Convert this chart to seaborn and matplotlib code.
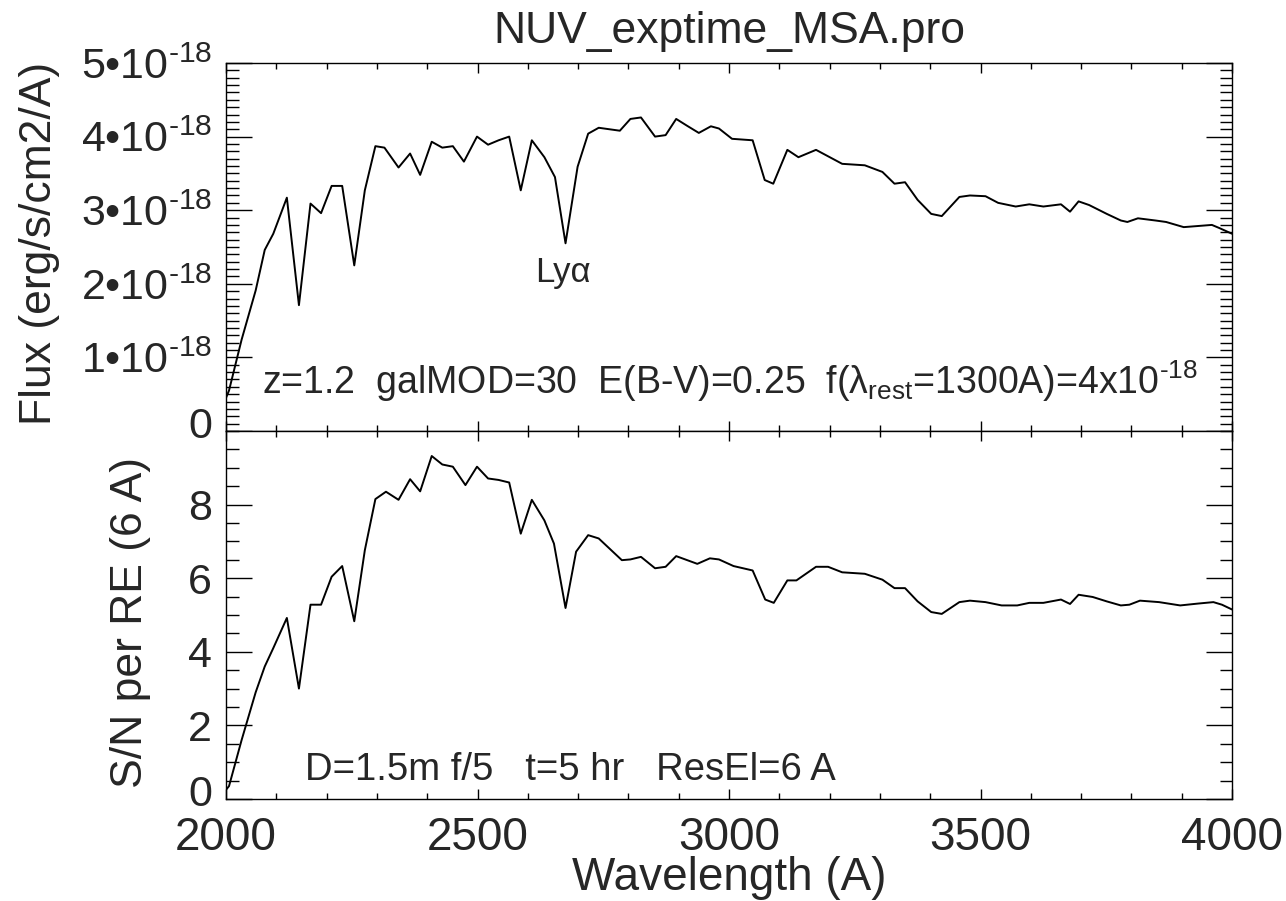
import matplotlib
matplotlib.use("Agg")
import matplotlib.pyplot as plt
import matplotlib.transforms as mtransforms
import seaborn as sns
import pandas as pd
import numpy as np
from matplotlib.ticker import FixedLocator, FixedFormatter, MultipleLocator

# ---------------- data ----------------
flux_wave = [2000, 2006, 2031, 2059, 2077, 2094, 2121, 2145, 2168, 2189, 2210, 2231,
             2255, 2276, 2297, 2315, 2343, 2366, 2386, 2409, 2430, 2451, 2473, 2499,
             2521, 2542, 2563, 2586, 2608, 2633, 2654, 2675, 2699, 2720, 2741, 2783,
             2804, 2825, 2853, 2874, 2895, 2916, 2940, 2964, 2980, 3006, 3047, 3071,
             3088, 3116, 3138, 3173, 3225, 3270, 3305, 3329, 3350, 3375, 3402, 3423,
             3458, 3479, 3510, 3535, 3570, 3597, 3625, 3660, 3678, 3695, 3716, 3751,
             3779, 3792, 3813, 3848, 3869, 3904, 3960, 3974, 4000]
flux_e18 = [0.45, 0.55, 1.24, 1.91, 2.46, 2.68, 3.17, 1.71, 3.09, 2.96, 3.33, 3.33,
            2.25, 3.27, 3.87, 3.85, 3.58, 3.77, 3.48, 3.93, 3.85, 3.87, 3.66, 4.00,
            3.89, 3.95, 4.00, 3.27, 3.95, 3.72, 3.45, 2.55, 3.59, 4.04, 4.12, 4.08,
            4.24, 4.26, 4.00, 4.02, 4.24, 4.15, 4.05, 4.14, 4.11, 3.97, 3.95, 3.41,
            3.36, 3.82, 3.72, 3.82, 3.63, 3.61, 3.52, 3.36, 3.38, 3.14, 2.95, 2.92,
            3.18, 3.20, 3.19, 3.10, 3.05, 3.08, 3.05, 3.08, 2.98, 3.12, 3.07, 2.95,
            2.86, 2.84, 2.89, 2.86, 2.84, 2.77, 2.80, 2.76, 2.68]

sn_wave = [2000, 2006, 2031, 2059, 2077, 2094, 2121, 2145, 2168, 2189, 2210, 2231,
           2255, 2276, 2297, 2318, 2343, 2366, 2386, 2409, 2430, 2451, 2476, 2499,
           2521, 2542, 2563, 2586, 2608, 2633, 2652, 2675, 2696, 2720, 2741, 2787,
           2804, 2825, 2853, 2874, 2895, 2937, 2962, 2980, 3009, 3047, 3072, 3089,
           3116, 3134, 3173, 3197, 3225, 3270, 3305, 3329, 3350, 3375, 3402, 3423,
           3458, 3479, 3510, 3542, 3573, 3597, 3625, 3660, 3678, 3695, 3723, 3751,
           3779, 3796, 3817, 3855, 3897, 3932, 3963, 3980, 4000]
sn_values = [0.25, 0.35, 1.60, 2.90, 3.60, 4.10, 4.92, 3.00, 5.28, 5.28, 6.04, 6.33,
             4.83, 6.76, 8.15, 8.35, 8.13, 8.69, 8.36, 9.32, 9.09, 9.03, 8.53, 9.03,
             8.71, 8.67, 8.60, 7.21, 8.13, 7.57, 6.94, 5.19, 6.72, 7.17, 7.08, 6.49,
             6.51, 6.58, 6.27, 6.31, 6.60, 6.39, 6.54, 6.51, 6.33, 6.21, 5.42, 5.33,
             5.94, 5.94, 6.31, 6.31, 6.16, 6.12, 5.96, 5.73, 5.73, 5.37, 5.08, 5.03,
             5.35, 5.39, 5.35, 5.26, 5.26, 5.33, 5.33, 5.42, 5.30, 5.55, 5.49, 5.37,
             5.26, 5.28, 5.39, 5.35, 5.26, 5.31, 5.35, 5.28, 5.15]

x_ticks = [2000, 2500, 3000, 3500, 4000]
x_ticklabels = ["2000", "2500", "3000", "3500", "4000"]
flux_ticks = [0, 1e-18, 2e-18, 3e-18, 4e-18, 5e-18]
flux_ticklabels = ["0", r"1•10$^{\text{-18}}$", r"2•10$^{\text{-18}}$", r"3•10$^{\text{-18}}$",
                   r"4•10$^{\text{-18}}$", r"5•10$^{\text{-18}}$"]
sn_ticks = [0, 2, 4, 6, 8]
sn_ticklabels = ["0", "2", "4", "6", "8"]

title = "NUV_exptime_MSA.pro"
xlabel = "Wavelength (A)"
flux_label = "Flux (erg/s/cm2/A)"
sn_label = "S/N per RE (6 A)"
lya_text = "Lyα"
model_text = r"z=1.2  galMOD=30  E(B-V)=0.25  f(λ$_{\text{rest}}$=1300A)=4x10$^{\text{-18}}$"
inst_text = "D=1.5m f/5   t=5 hr   ResEl=6 A"

# ---------------- style ----------------
sns.set_theme(style="ticks")
plt.rcParams["font.family"] = ["Liberation Sans", "DejaVu Sans"]
plt.rcParams["mathtext.fontset"] = "custom"
plt.rcParams["mathtext.rm"] = "Liberation Sans"
plt.rcParams["mathtext.it"] = "Liberation Sans"
plt.rcParams["mathtext.default"] = "regular"

flux_df = pd.DataFrame({"wave": flux_wave, "flux": np.array(flux_e18) * 1e-18})
sn_df = pd.DataFrame({"wave": sn_wave, "sn": sn_values})

fig = plt.figure(figsize=(12.86, 9.01), dpi=100)
L, W = 226 / 1286, 1006 / 1286
H = 368 / 901
ax1 = fig.add_axes([L, 1 - 431 / 901, W, H])
ax2 = fig.add_axes([L, 1 - 799 / 901, W, H])

sns.lineplot(data=flux_df, x="wave", y="flux", ax=ax1, color="black", lw=1.4, sort=False)
sns.lineplot(data=sn_df, x="wave", y="sn", ax=ax2, color="black", lw=1.4, sort=False)

YTICK_FS = 31
XTICK_FS = 33
YLABEL_FS = 32
XLABEL_FS = 33

for ax in (ax1, ax2):
    ax.set_xlim(2000, 4000)
    ax.xaxis.set_major_locator(FixedLocator(x_ticks))
    ax.xaxis.set_minor_locator(MultipleLocator(100))
    ax.tick_params(which="both", direction="in", top=True, bottom=True,
                   left=True, right=True, color="black", width=1.0)
    ax.tick_params(axis="x", which="major", length=7, labelsize=XTICK_FS, pad=12)
    ax.tick_params(axis="x", which="minor", length=4)
    ax.tick_params(axis="y", which="major", length=19, labelsize=YTICK_FS, pad=10)
    ax.tick_params(axis="y", which="minor", length=9)
    for s in ax.spines.values():
        s.set_color("black")
        s.set_linewidth(1.0)
    ax.set_xlabel("")
    ax.set_ylabel("")

ax1.set_ylim(0, 5e-18)
ax1.yaxis.set_major_locator(FixedLocator(flux_ticks))
ax1.yaxis.set_major_formatter(FixedFormatter(flux_ticklabels))
ax1.yaxis.set_minor_locator(MultipleLocator(1e-19))
ax1.tick_params(labelbottom=False)

ax2.set_ylim(0, 10)
ax2.yaxis.set_major_locator(FixedLocator(sn_ticks))
ax2.yaxis.set_major_formatter(FixedFormatter(sn_ticklabels))
ax2.yaxis.set_minor_locator(MultipleLocator(0.5))
ax2.xaxis.set_major_formatter(FixedFormatter(x_ticklabels))

ax1.set_ylabel(flux_label, fontsize=YLABEL_FS)
ax1.yaxis.set_label_coords(-0.165, 0.51)
ax2.set_ylabel(sn_label, fontsize=YLABEL_FS)
ax2.yaxis.set_label_coords(-0.075, 0.48)
ax2.set_xlabel(xlabel, fontsize=XLABEL_FS)
ax2.xaxis.set_label_coords(0.5, -0.155)

fig.text(729 / 1286, 1 - 32 / 901, title, fontsize=32, ha="center", va="center")

ax1.text(0.335, 0.432, lya_text, transform=ax1.transAxes, fontsize=25,
         ha="center", va="center")
ax1.text(0.036, 0.136, model_text, transform=ax1.transAxes, fontsize=27,
         ha="left", va="center")
ax2.text(0.0785, 0.079, inst_text, transform=ax2.transAxes, fontsize=27.5,
         ha="left", va="center")

# the "0" labels sit slightly above their ticks, as in the reference
shift_up = mtransforms.ScaledTranslation(0, 9 / 100, fig.dpi_scale_trans)
for ax in (ax1, ax2):
    zero_label = ax.yaxis.get_major_ticks()[0].label1
    zero_label.set_transform(zero_label.get_transform() + shift_up)

fig.savefig("out.png", dpi=100)
